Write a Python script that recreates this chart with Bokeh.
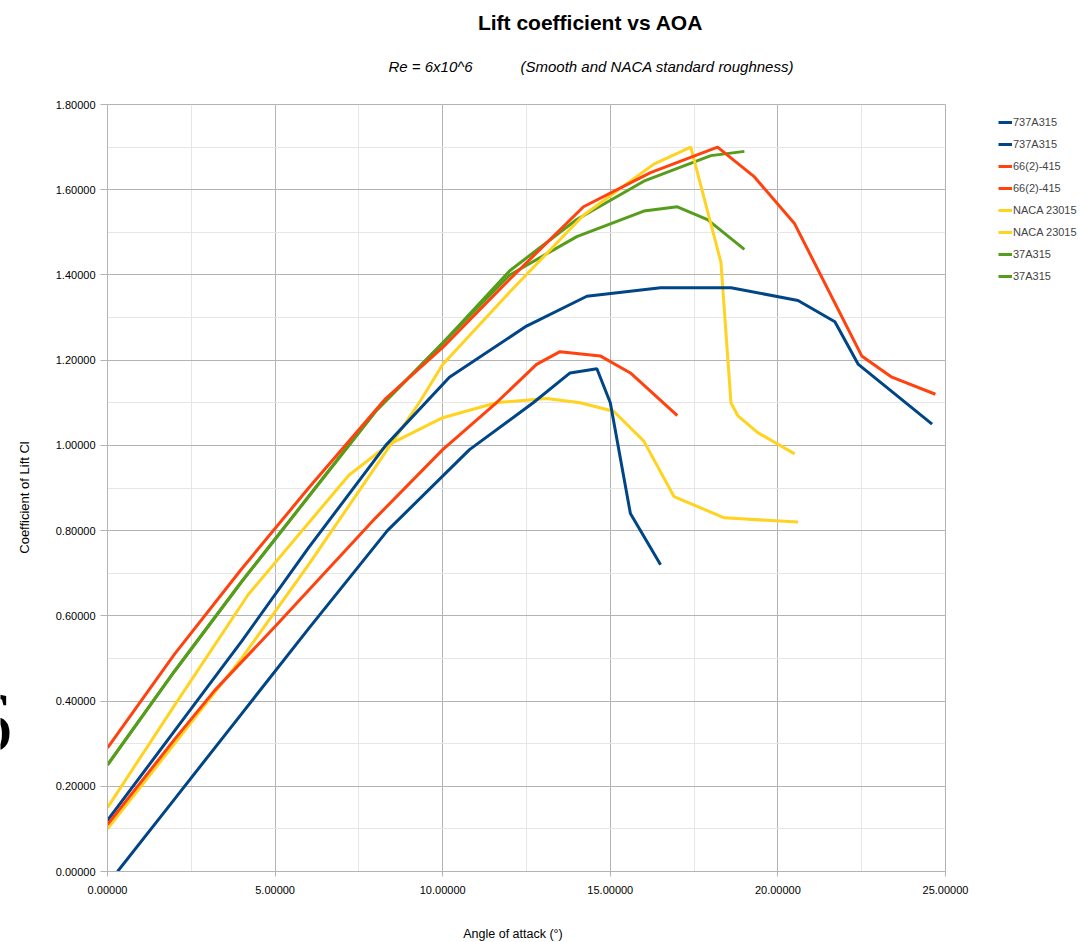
from bokeh.plotting import figure
from bokeh.layouts import column, row
from bokeh.models import (Range1d, SingleIntervalTicker, PrintfTickFormatter,
                          Legend, LegendItem, Label)
from bokeh.embed import file_html
from bokeh.resources import INLINE

# ---- data ----
blue_a_x = [0, 2, 4, 6, 8.3, 10.2, 12.5, 14.3, 16.5, 18.6, 20.6, 21.7, 22.4, 24.6]
blue_a_y = [0.12, 0.33, 0.54, 0.76, 1.00, 1.16, 1.28, 1.35, 1.37, 1.37, 1.34, 1.29, 1.19, 1.05]

blue_b_x = [0.3, 2, 4, 6, 8.35, 10.8, 12.7, 13.8, 14.6, 15.0, 15.6, 16.5]
blue_b_y = [0.0, 0.17, 0.37, 0.57, 0.80, 0.99, 1.10, 1.17, 1.18, 1.10, 0.84, 0.72]

red_a_x = [0, 2, 4, 6, 8.3, 10, 12, 14.2, 16.2, 18.2, 19.3, 20.5, 22.5, 23.4, 24.7]
red_a_y = [0.29, 0.51, 0.71, 0.90, 1.11, 1.23, 1.39, 1.56, 1.64, 1.70, 1.63, 1.52, 1.21, 1.16, 1.12]

red_b_x = [0, 2, 3.2, 5, 8, 10, 11.6, 12.8, 13.5, 14.7, 15.6, 17.0]
red_b_y = [0.11, 0.31, 0.425, 0.575, 0.83, 0.99, 1.10, 1.19, 1.22, 1.21, 1.17, 1.07]

yellow_a_x = [0, 2, 4, 6, 8, 9.3, 10, 12, 14.2, 16.3, 17.4, 18.3, 18.6, 18.8, 19.4, 20.5]
yellow_a_y = [0.10, 0.30, 0.50, 0.72, 0.95, 1.10, 1.19, 1.36, 1.54, 1.66, 1.70, 1.43, 1.10, 1.07, 1.03, 0.98]

yellow_b_x = [0, 2, 4.2, 7.2, 8.35, 10, 11.6, 13.1, 14.1, 15.1, 16.0, 16.9, 18.4, 20.6]
yellow_b_y = [0.15, 0.39, 0.65, 0.93, 1.00, 1.065, 1.10, 1.11, 1.10, 1.08, 1.01, 0.88, 0.83, 0.82]

green_a_x = [0, 2, 4, 6, 8, 10, 12, 14, 16, 18, 19]
green_a_y = [0.25, 0.47, 0.68, 0.88, 1.08, 1.24, 1.41, 1.53, 1.62, 1.68, 1.69]

green_b_x = [0, 2, 4, 6, 8, 10, 12, 14, 15, 16, 17, 17.9, 19]
green_b_y = [0.25, 0.47, 0.68, 0.88, 1.08, 1.24, 1.40, 1.49, 1.52, 1.55, 1.56, 1.53, 1.46]

names = ["737A315", "737A315", "66(2)-415", "66(2)-415",
         "NACA 23015", "NACA 23015", "37A315", "37A315"]

BLUE = "#004586"
RED = "#ff420e"
YELLOW = "#ffd320"
GREEN = "#579d1c"
GRID = "#b3b3b3"
MINOR = "#e6e6e6"
FONT = "Liberation Sans"


def blank(w, h, xr, yr):
    f = figure(width=w, height=h, output_backend="svg", toolbar_location=None,
               x_range=Range1d(*xr), y_range=Range1d(*yr),
               x_axis_type=None, y_axis_type=None,
               min_border=0, min_border_left=0, min_border_right=0,
               min_border_top=0, min_border_bottom=0)
    f.outline_line_color = None
    f.background_fill_color = "white"
    f.border_fill_color = "white"
    return f


# ---- main chart ----
p = figure(width=930, height=816, output_backend="svg", toolbar_location=None,
           x_range=Range1d(0, 25), y_range=Range1d(0, 1.8),
           min_border_left=62, min_border_right=30,
           min_border_top=14, min_border_bottom=35)
p.background_fill_color = "white"
p.border_fill_color = "white"
p.outline_line_color = GRID

p.xaxis.ticker = SingleIntervalTicker(interval=5, num_minor_ticks=2)
p.yaxis.ticker = SingleIntervalTicker(interval=0.2, num_minor_ticks=2)
for ax in (p.xaxis, p.yaxis):
    ax.formatter = PrintfTickFormatter(format="%.5f")
    ax.axis_line_color = GRID
    ax.major_tick_line_color = GRID
    ax.minor_tick_line_color = None
    ax.major_tick_in = 0
    ax.major_label_text_font = FONT
    ax.major_label_text_font_size = "11px"
    ax.major_label_text_color = "black"
p.yaxis.major_tick_out = 7
p.yaxis.major_label_standoff = 5
p.xaxis.major_tick_out = 5
p.xaxis.major_label_standoff = 9

for g in (p.xgrid, p.ygrid):
    g.grid_line_color = GRID
    g.minor_grid_line_color = MINOR

series = [
    ("737A315", green_a_x, green_a_y, GREEN),
    ("737A315", green_b_x, green_b_y, GREEN),
    ("NACA 23015", yellow_a_x, yellow_a_y, YELLOW),
    ("NACA 23015", yellow_b_x, yellow_b_y, YELLOW),
    ("737A315", blue_a_x, blue_a_y, BLUE),
    ("737A315", blue_b_x, blue_b_y, BLUE),
    ("66(2)-415", red_a_x, red_a_y, RED),
    ("66(2)-415", red_b_x, red_b_y, RED),
]
for _, xs, ys, col in series:
    p.line(xs, ys, line_color=col, line_width=3)

# ---- title area (pixel-like coordinates, y downward) ----
top = blank(1090, 90, (0, 1090), (90, 0))
top.add_layout(Label(x=590, y=22, text="Lift coefficient vs AOA",
                     text_font=FONT, text_font_size="21px", text_font_style="bold",
                     text_align="center", text_baseline="alphabetic", text_color="black"))
top.add_layout(Label(x=388, y=66, text="Re = 6x10^6",
                     text_font=FONT, text_font_size="15px", text_font_style="italic",
                     text_align="left", text_baseline="alphabetic", text_color="black"))
top.add_layout(Label(x=520, y=66, text="(Smooth and NACA standard roughness)",
                     text_font=FONT, text_font_size="15px", text_font_style="italic",
                     text_align="left", text_baseline="alphabetic", text_color="black"))

# ---- left strip: y-axis title and cropped glyph ----
left = blank(45, 852, (0, 45), (942, 90))
left.add_layout(Label(x=24, y=497, text="Coefficient of Lift Cl", angle=1.5708,
                      text_font=FONT, text_font_size="13px",
                      text_align="center", text_baseline="middle", text_color="black"))
left.add_layout(Label(x=11.5, y=722, text="6",
                      text_font="Liberation Serif", text_font_size="84px",
                      text_align="right", text_baseline="alphabetic", text_color="black"))

# ---- bottom strip: x-axis title ----
bottom = blank(930, 36, (45, 975), (942, 906))
bottom.add_layout(Label(x=495, y=933, text="Angle of attack (°)",
                        text_font=FONT, text_font_size="12.5px",
                        text_align="center", text_baseline="middle", text_color="black"))

# ---- right strip: legend (proxy lines fall outside this strip's ranges) ----
right = blank(115, 852, (975, 1090), (942, 90))
legend_series = [
    (names[0], blue_a_x, blue_a_y, BLUE),
    (names[1], blue_b_x, blue_b_y, BLUE),
    (names[2], red_a_x, red_a_y, RED),
    (names[3], red_b_x, red_b_y, RED),
    (names[4], yellow_a_x, yellow_a_y, YELLOW),
    (names[5], yellow_b_x, yellow_b_y, YELLOW),
    (names[6], green_a_x, green_a_y, GREEN),
    (names[7], green_b_x, green_b_y, GREEN),
]
items = []
for n, xs, ys, c in legend_series:
    rr = right.line(xs, ys, line_color=c, line_width=3)
    items.append(LegendItem(label=n, renderers=[rr]))
legend = Legend(items=items, location=(23, 657))
legend.label_text_font = FONT
legend.label_text_font_size = "11px"
legend.glyph_width = 14
legend.glyph_height = 18
legend.label_height = 18
legend.spacing = 4
legend.label_standoff = 1
legend.padding = 0
legend.margin = 0
legend.border_line_color = None
legend.background_fill_alpha = 0
right.add_layout(legend, "center")

layout = column(top, row(left, column(p, bottom), right))
open("out.html", "w").write(file_html(layout, INLINE))
